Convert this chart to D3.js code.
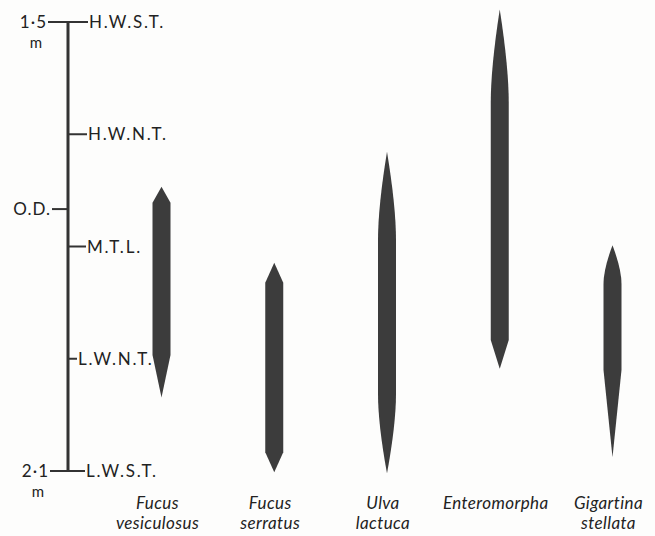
<!DOCTYPE html>
<html><head><meta charset="utf-8">
<script src="https://cdn.jsdelivr.net/npm/d3@7/dist/d3.min.js"></script>
<style>
html,body{margin:0;padding:0;background:#fdfdfc;}
svg{display:block;}
text{font-family:Lato,"Open Sans",sans-serif;fill:#222;}
</style></head>
<body>
<svg id="chart" width="655" height="536"></svg>
<script>
// ---- data (metres relative to Ordnance Datum) ----
const tideLevels = [1.5, 0.6, -0.3, -1.2, -2.1];
const tideLabels = ["H.W.S.T.", "H.W.N.T.", "M.T.L.", "L.W.N.T.", "L.W.S.T."];
const datumLevels = [1.5, 0, -2.1];
const datumLabels = ["1·5", "O.D.", "2·1"];
const datumUnits = ["m", "", "m"];

const species = ["Fucus vesiculosus", "Fucus serratus", "Ulva lactuca", "Enteromorpha", "Gigartina stellata"];
const rangeTop = [0.18, -0.43, 0.46, 1.60, -0.29];          // upper tip
const rangeTopFull = [0.05, -0.59, -0.25, 0.85, -0.60];     // full abundance starts
const rangeBottomFull = [-1.17, -1.95, -1.48, -1.05, -1.29];// full abundance ends
const rangeBottom = [-1.51, -2.11, -2.12, -1.28, -1.99];    // lower tip

// ---- layout / style ----
const svg = d3.select("#chart");
const y = d3.scaleLinear().domain([1.5, -2.1]).range([22, 471]);
const x = d3.scalePoint().domain(species).range([161.5, 612.5]);
const axisX = 68;
const ink = "#333";
const barColor = "#3c3c3c";
const halfW = 9;
const topStyle = ["straight", "straight", "ogive", "ogive", "ogive"];
const botStyle = ["straight", "straight", "ogive", "straight", "straight"];
const ogiveK = 0.62;

// vertical axis
svg.append("line").attr("x1", axisX).attr("x2", axisX)
  .attr("y1", y(1.5)).attr("y2", y(-2.1))
  .attr("stroke", ink).attr("stroke-width", 3);

// tide ticks on right
const rightLen = {"H.W.S.T.": 20, "H.W.N.T.": 19, "M.T.L.": 18, "L.W.N.T.": 9, "L.W.S.T.": 17};
tideLevels.forEach((v, i) => {
  const len = rightLen[tideLabels[i]];
  svg.append("line").attr("x1", axisX).attr("x2", axisX + len)
    .attr("y1", y(v)).attr("y2", y(v)).attr("stroke", ink).attr("stroke-width", 2);
  svg.append("text").attr("x", axisX + len + 1).attr("y", y(v) + 6)
    .attr("font-size", 17).attr("letter-spacing", 1.8).text(tideLabels[i]);
});

// datum ticks on left
const leftLen = {"1·5": 20, "O.D.": 16, "2·1": 18};
datumLevels.forEach((v, i) => {
  const len = leftLen[datumLabels[i]];
  svg.append("line").attr("x1", axisX - len).attr("x2", axisX)
    .attr("y1", y(v)).attr("y2", y(v)).attr("stroke", ink).attr("stroke-width", 2);
  svg.append("text").attr("x", axisX - len - 1).attr("y", y(v) + 6)
    .attr("text-anchor", "end").attr("font-size", 17).attr("letter-spacing", 1)
    .text(datumLabels[i]);
  if (datumUnits[i]) {
    svg.append("text").attr("x", axisX - len - 12).attr("y", y(v) + 26)
      .attr("text-anchor", "middle").attr("font-size", 15).text(datumUnits[i]);
  }
});

// bars
species.forEach((s, i) => {
  const cx = x(s);
  const t = y(rangeTop[i]), t1 = y(rangeTopFull[i]);
  const b1 = y(rangeBottomFull[i]), b = y(rangeBottom[i]);
  const kt = (t1 - t) * ogiveK, kb = (b - b1) * ogiveK;
  let d = `M${cx},${t}`;
  d += topStyle[i] === "ogive" ? `Q${cx + halfW},${t + kt} ${cx + halfW},${t1}` : `L${cx + halfW},${t1}`;
  d += `L${cx + halfW},${b1}`;
  if (botStyle[i] === "ogive") {
    d += `Q${cx + halfW},${b - kb} ${cx},${b}`;
    d += `Q${cx - halfW},${b - kb} ${cx - halfW},${b1}`;
  } else {
    d += `L${cx},${b}L${cx - halfW},${b1}`;
  }
  d += `L${cx - halfW},${t1}`;
  d += topStyle[i] === "ogive" ? `Q${cx - halfW},${t + kt} ${cx},${t}` : `L${cx},${t}`;
  d += "Z";
  svg.append("path").attr("d", d).attr("fill", barColor);
});

// species labels
species.forEach((s, i) => {
  const words = s.split(" ");
  const lx = x(s) - 4;
  words.forEach((w, j) => {
    svg.append("text").attr("x", lx).attr("y", 509 + j * 20)
      .attr("text-anchor", "middle").attr("font-size", 17)
      .attr("font-style", "italic").attr("letter-spacing", 0.4).text(w);
  });
});
</script>
</body></html>
